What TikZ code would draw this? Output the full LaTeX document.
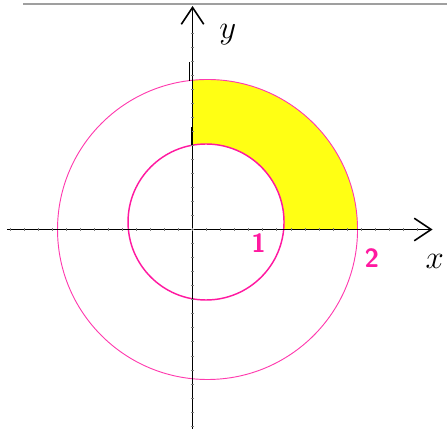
\documentclass[tikz,border=0pt]{standalone}
\usepackage{amsmath,amssymb}
\usetikzlibrary{arrows.meta}

\definecolor{ringpink}{RGB}{255,25,160}
\definecolor{ringfill}{RGB}{255,255,20}

\tikzset{
  axisline/.style={line width=1.2pt, -{Straight Barb[length=4.5mm,width=6mm,line width=1.2pt]}},
  ringlabel/.style={text=ringpink, font=\fontsize{20}{22}\selectfont\sffamily\bfseries},
  axislabel/.style={font=\fontsize{28}{30}\selectfont}
}

\begin{document}
\begin{tikzpicture}[scale=2.0]

% Fix the page size
\useasboundingbox (-2.567,-2.66) rectangle (3.393,3.06);

% Top rule
\draw[gray!75, line width=1.2pt] (-2.26,3.007) -- (3.393,3.007);

% Fill the quarter ring (between the circles, first quadrant)
\begin{scope}
  \clip (0,0) rectangle (3,3);
  \fill[ringfill, even odd rule] (0.2,0) circle (2) (0.18,0.1) circle (1.04);
\end{scope}

% Draw the two circles
\draw[ringpink!85, line width=0.7pt] (0.2,0) circle (2);
\draw[ringpink, line width=1.1pt] (0.18,0.1) circle (1.04);

% Draw coordinate axes
\draw[axisline] (-2.47,0) -- (3.2,0);
\draw[axisline] (0,-2.66) -- (0,2.98);

% Small ticks along the axes
\foreach \t in {-13,...,16}
  \draw[gray, line width=0.3pt] (\t*0.187,-0.018) -- (\t*0.187,0.018);
\foreach \t in {-14,...,14}
  \draw[gray, line width=0.3pt] (-0.018,\t*0.187) -- (0.018,\t*0.187);

% Hand marks on the y-axis
\draw[line width=0.9pt] (-0.04,2.23) -- (-0.04,1.98);
\draw[line width=0.9pt] (-0.01,1.36) -- (-0.01,1.12);

% Labels
\node[axislabel] (ylab) at (0.47,2.6) {$y$};
\node[axislabel] (xlab) at (3.23,-0.42) {$x$};
\node[ringlabel] (one) at (0.88,-0.18) {1};
\node[ringlabel] (two) at (2.39,-0.38) {2};

\end{tikzpicture}
\end{document}
